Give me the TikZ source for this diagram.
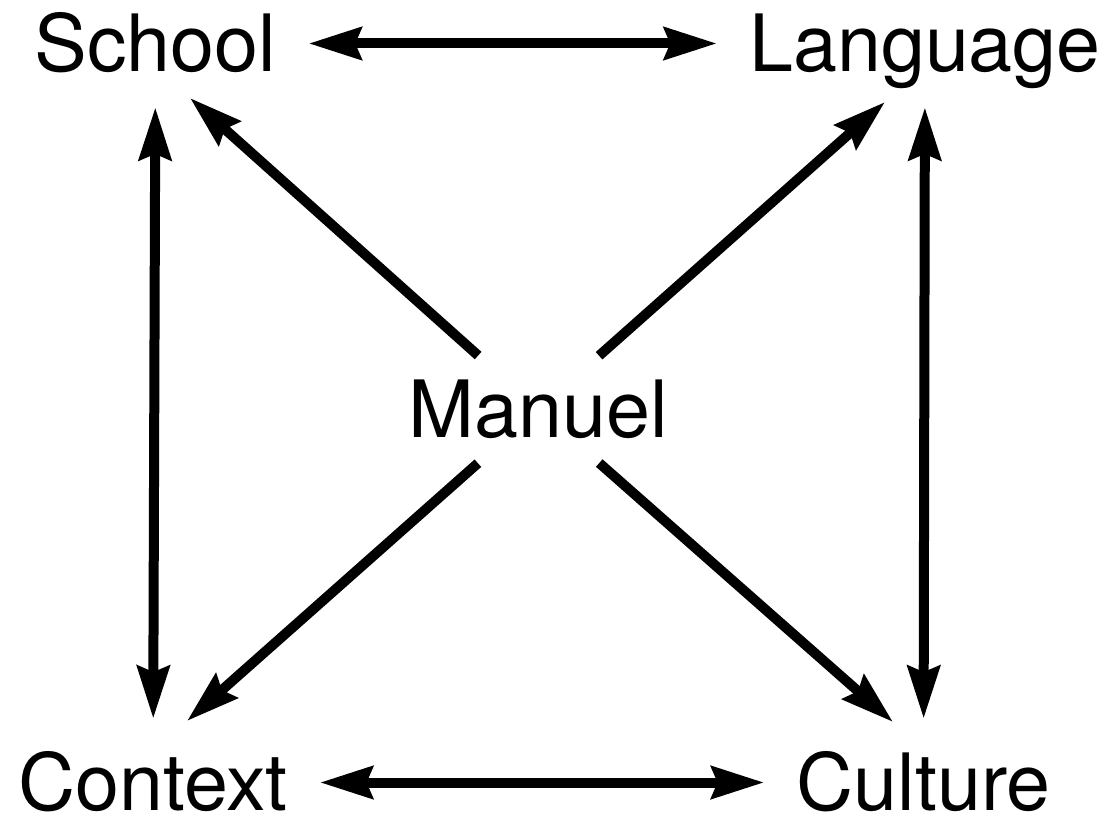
\documentclass[tikz,border=0pt]{standalone}
\usepackage{fontspec}
\setmainfont{TeX Gyre Heros}
\usetikzlibrary{arrows.meta}

\begin{document}
\begin{tikzpicture}[x=0.02cm, y=-0.02cm,
  lbl/.style={font=\fontsize{45}{54}\selectfont, text height=1.14cm, text depth=0pt,
              inner xsep=0.64cm, inner ysep=0.1cm},
  dbl/.style={{Stealth[length=1.05cm, width=0.64cm, inset=0.12cm]}-{Stealth[length=1.05cm, width=0.64cm, inset=0.12cm]},
              line width=0.2cm},
  vdbl/.style={dbl, shorten <=0.6cm, shorten >=0.6cm},
  arr/.style={-{Stealth[length=1.05cm, width=0.64cm, inset=0.12cm]}, line width=0.2cm,
              shorten <=1.62cm}]
\useasboundingbox[fill=white] (0,0) rectangle (1109,817);
% corner labels
\node[lbl] (school) at (155.5,43.5) {School};
\node[lbl] (language) at (925,43.5) {Language};
\node[lbl] (context) at (153,782.5) {Context};
\node[lbl] (culture) at (923.5,782.5) {Culture};
% centre
\node[lbl] (manuel) at (538.5,409.5) {Manuel};
% sides of the square
\draw[dbl] (school) -- (language);
\draw[dbl] (context) -- (culture);
\draw[vdbl] (school) -- (context);
\draw[vdbl] (language) -- (culture);
% from the centre out
\draw[arr] (manuel.center) -- ([shift={(34.5,54.5)}]school.center);
\draw[arr] (manuel.center) -- ([shift={(-40,58.5)}]language.center);
\draw[arr] (manuel.center) -- ([shift={(34,-61.5)}]context.center);
\draw[arr] (manuel.center) -- ([shift={(-30.5,-60.5)}]culture.center);
\end{tikzpicture}
\end{document}
